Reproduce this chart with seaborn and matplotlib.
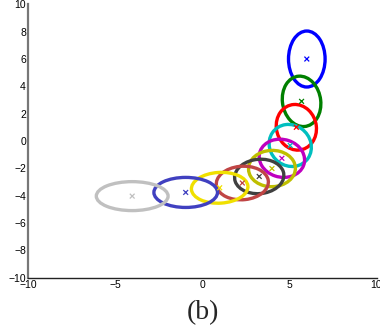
import numpy as np
import pandas as pd
import matplotlib
matplotlib.use("Agg")
import matplotlib.pyplot as plt
from matplotlib.patches import Ellipse
import seaborn as sns

# Component centers (marker positions)
cx = [6.0, 5.7, 5.4, 5.05, 4.57, 4.0, 3.27, 2.3, 1.0, -0.95, -4.02]
cy = [6.0, 2.9, 1.0, -0.33, -1.27, -2.02, -2.6, -3.08, -3.43, -3.77, -4.04]
# Ellipse full widths / heights (data units) and tilt (degrees)
ew = [2.1, 2.2, 2.3, 2.4, 2.55, 2.7, 2.85, 3.0, 3.25, 3.65, 4.12]
eh = [4.1, 3.7, 3.35, 3.1, 2.85, 2.65, 2.5, 2.45, 2.25, 2.2, 2.12]
eang = [0, 5, 5, 10, 25, 25, 15, 8, 5, 0, 0]
colors = ["#0000ff", "#008000", "#ff0000", "#00bfbf", "#bf00bf", "#bfbf00",
          "#404040", "#c04545", "#f0e000", "#4040c0", "#c0c0c0"]
xticks = [-10, -5, 0, 5, 10]
yticks = [-10, -8, -6, -4, -2, 0, 2, 4, 6, 8, 10]

df = pd.DataFrame({"x": cx, "y": cy, "k": [str(i) for i in range(len(cx))]})

sns.set_style("white")
plt.rcParams["font.family"] = ["Liberation Sans", "DejaVu Sans"]

fig = plt.figure(figsize=(3.8, 3.35), dpi=100)
ax = fig.add_axes([28 / 380, 1 - 277.5 / 335, (376.5 - 28) / 380, (277.5 - 4.4) / 335])

for x, y, w, h, a, c in zip(cx, cy, ew, eh, eang, colors):
    ax.add_patch(Ellipse((x, y), w, h, angle=a, fill=False, edgecolor=c, linewidth=2.4))

sns.scatterplot(data=df, x="x", y="y", hue="k", palette=colors, marker="x",
                s=12, linewidth=0.9, legend=False, ax=ax, zorder=5)

ax.set_xlim(-10, 10)
ax.set_ylim(-10, 10)
ax.set_xticks(xticks)
ax.set_yticks(yticks)
ax.set_xticklabels([str(t).replace("-", "\u2212") for t in xticks])
ax.set_yticklabels([str(t).replace("-", "\u2212") for t in yticks])
ax.set_xlabel("")
ax.set_ylabel("")
ax.tick_params(direction="in", length=3, width=0.8, labelsize=7.5, pad=1.5, colors="black")
ax.spines["top"].set_visible(False)
ax.spines["right"].set_visible(False)
ax.spines["left"].set_color("#777777")
ax.spines["left"].set_linewidth(1.6)
ax.spines["bottom"].set_color("#222222")
ax.spines["bottom"].set_linewidth(1.0)

fig.text(203 / 380, 1 - 313 / 335, "(b)", ha="center", va="center",
         fontsize=20, family="Liberation Serif")

fig.savefig("out.png", dpi=100)
